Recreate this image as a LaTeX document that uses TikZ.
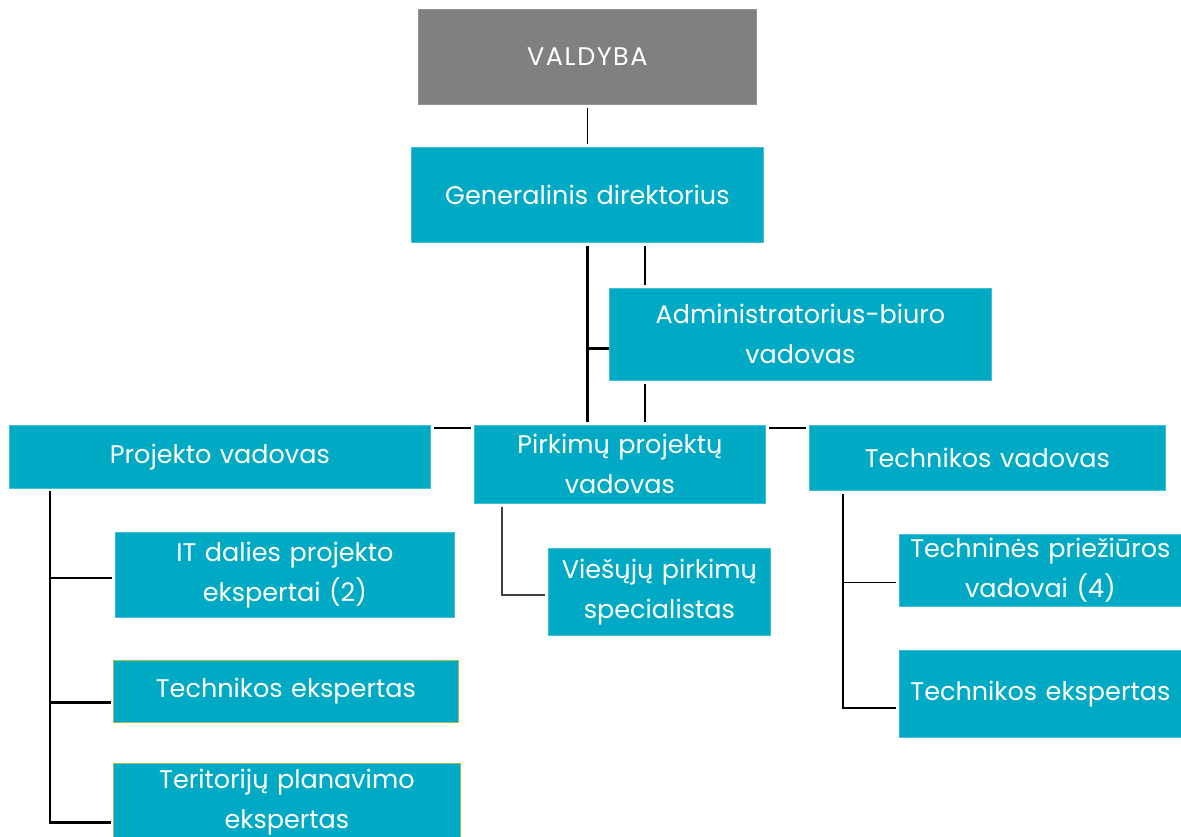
\documentclass[tikz,border=0pt]{standalone}
\usepackage{fontspec}
\setmainfont[WordSpace=1.5]{Poppins}
\definecolor{tealbox}{RGB}{0,170,196}
\definecolor{graybox}{RGB}{128,128,128}
\definecolor{greenline}{RGB}{155,187,89}
\begin{document}
\begin{tikzpicture}[x=1pt,y=-1pt,font=\fontsize{25.5}{40}\selectfont,
    box/.style={fill=tealbox,draw=tealbox!75!white,line width=.8pt,text=white,
      align=center,anchor=north west,inner sep=0pt},
    gbox/.style={box,draw=greenline},
    con/.style={line width=1.3pt,shorten <=3pt,shorten >=3pt},
    bold/.style={line width=2.6pt}]
  \useasboundingbox (0,0) rectangle (1181,837);
  \def\lx{50} \def\mx{502} \def\rx{843}
  % boxes
  \node[box,fill=graybox,draw=graybox!85!white,text width=338pt,minimum height=95pt] (val) at (418,9)
    {\addfontfeature{LetterSpace=6}VALDYBA};
  \node[box,text width=352pt,minimum height=95pt] (gen) at (411,147) {Generalinis direktorius};
  \node[box,text width=382pt,minimum height=92pt] (adm) at (609,288) {Administratorius-biuro\\vadovas};
  \node[box,text width=421pt,minimum height=63pt] (pv) at (9,425) {Projekto vadovas};
  \node[box,text width=291pt,minimum height=78pt] (pirk) at (474,425) {Pirkimų projektų\\vadovas};
  \node[box,text width=356pt,minimum height=65pt] (tv) at (809,425) {Technikos vadovas};
  \node[box,text width=339pt,minimum height=85pt] (it) at (115,532) {IT dalies projekto\\ekspertai (2)};
  \node[gbox,text width=345pt,minimum height=62pt] (te1) at (113,660) {Technikos ekspertas};
  \node[gbox,text width=347pt,minimum height=78pt] (ter) at (113,763) {Teritorijų planavimo\\ekspertas};
  \node[box,text width=222pt,minimum height=87pt] (vp) at (548,548) {Viešųjų pirkimų\\specialistas};
  \node[box,text width=282pt,minimum height=72pt] (tp) at (899,534) {Techninės priežiūros\\vadovai (4)};
  \node[box,text width=282pt,minimum height=87pt] (te2) at (899,650) {Technikos ekspertas};
  %===========================================
  \coordinate (lb) at (\lx,0); \coordinate (mb) at (\mx,0); \coordinate (rb) at (\rx,0);
  \coordinate (ax) at ([xshift=36pt]adm.north west);
  \coordinate (aj) at ([yshift=-14pt]adm.west);
  \draw[con] (val) -- (gen);
  \draw[con,bold] (gen.south) -- (gen.south |- pirk.north);
  \draw[bold] (aj) -- (aj -| gen.south);
  \draw[con] (gen.south -| ax) -- (ax);
  \draw[con] (adm.south -| ax) -- (pirk.north -| ax);
  \draw[con] ([yshift=-3pt]pv.north east) -- ([yshift=-3pt]pirk.north west);
  \draw[con] ([yshift=-3pt]pirk.north east) -- ([yshift=-3pt]tv.north west);
  % Projekto vadovas
  \draw[bold,shorten <=2pt,shorten >=2pt] (pv.south -| lb) |- ([yshift=-20pt]ter.west);
  \draw[con,shorten <=0pt] (lb |- it.west) ++(0,3) -- ([yshift=-3pt]it.west);
  \draw[bold,shorten >=2pt] (lb |- te1.west) ++(0,11) -- ([yshift=-11pt]te1.west);
  % Pirkimu projektu vadovas
  \draw[con,draw=black!75] (pirk.south -| mb) |- ([yshift=-3pt]vp.west);
  % Technikos vadovas
  \draw[con] (tv.south -| rb) |- ([yshift=-14pt]te2.west);
  \draw[con,shorten <=0pt] (rb |- tp.west) ++(0,12) -- ([yshift=-12pt]tp.west);
\end{tikzpicture}
\end{document}
